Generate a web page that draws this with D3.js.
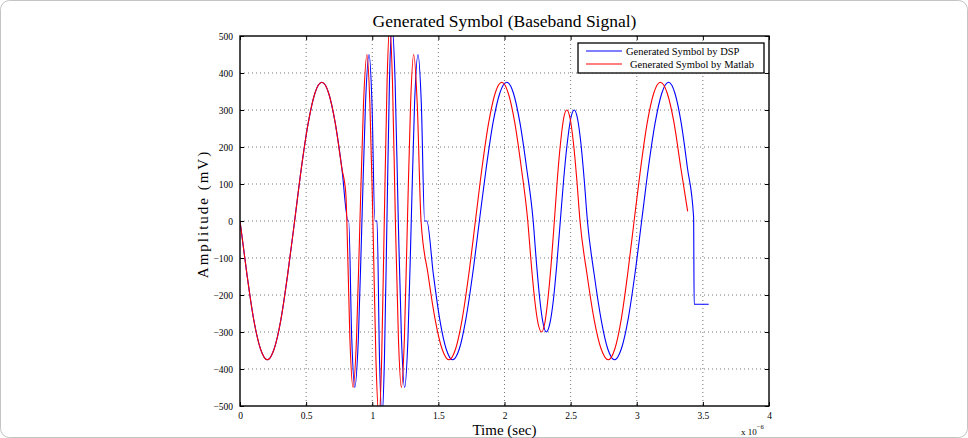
<!DOCTYPE html>
<html>
<head>
<meta charset="utf-8">
<script src="https://cdn.jsdelivr.net/npm/d3@7.9.0/dist/d3.min.js"></script>
<style>
  html, body { margin: 0; padding: 0; background: #fff; }
  svg { display: block; font-family: "Liberation Serif", "Times New Roman", serif; }
</style>
</head>
<body>
<div id="chart"></div>
<script>
// time in units of 1e-6 s, amplitude in mV
const xTicks = [0, 0.5, 1, 1.5, 2, 2.5, 3, 3.5, 4];
const yTicks = [-500, -400, -300, -200, -100, 0, 100, 200, 300, 400, 500];

const dspTime = [
  0.000, 0.052, 0.103, 0.155, 0.207, 0.258, 0.310, 0.361, 0.413, 0.464, 0.516, 0.567, 0.619, 0.670, 0.720, 0.770,
  0.817, 0.822, 0.845, 0.868, 0.895, 0.922, 0.949, 0.976, 0.998, 1.020, 1.036, 1.055, 1.074, 1.092, 1.111, 1.130,
  1.149, 1.173, 1.197, 1.221, 1.245, 1.270, 1.295, 1.320, 1.346, 1.371, 1.396, 1.413,
  1.462, 1.510, 1.559, 1.607, 1.658, 1.708, 1.759, 1.810, 1.862, 1.913, 1.965, 2.017, 2.067, 2.117, 2.167, 2.217,
  2.242, 2.267, 2.292, 2.317, 2.343, 2.370, 2.396, 2.422, 2.448, 2.475, 2.501, 2.527, 2.552, 2.577, 2.602, 2.627,
  2.678, 2.730, 2.781, 2.832, 2.883, 2.935, 2.986, 3.037, 3.088, 3.139, 3.190, 3.241, 3.288, 3.336, 3.383, 3.430,
  3.434, 3.544
];
const dspAmp = [
  0, -143, -265, -346, -375, -346, -265, -143, 0, 143, 265, 346, 375, 346, 265, 143,
  0, 0, -318, -450, -318, 0, 318, 450, 318, 0, 0, -375, -530, -375, 0, 375,
  530, 375, 0, -318, -450, -318, 0, 318, 450, 318, 0, 0,
  -144, -265, -346, -375, -346, -265, -144, 0, 144, 265, 346, 375, 346, 265, 144, 0,
  -115, -212, -277, -300, -277, -212, -115, 0, 115, 212, 277, 300, 277, 212, 115, 0,
  -144, -265, -346, -375, -346, -265, -144, 0, 144, 265, 346, 375, 346, 265, 144, 10,
  -225, -225
];

const matlabTime = [
  0.000, 0.052, 0.103, 0.155, 0.207, 0.258, 0.310, 0.361, 0.413, 0.464, 0.516, 0.567, 0.619, 0.670, 0.720, 0.770,
  0.800, 0.808, 0.831, 0.855, 0.881, 0.907, 0.934, 0.960, 0.982, 1.005, 1.028, 1.051, 1.071, 1.091, 1.112, 1.132,
  1.153, 1.175, 1.198, 1.220, 1.243, 1.266, 1.290, 1.313, 1.340, 1.369,
  1.422, 1.475, 1.528, 1.580, 1.630, 1.680, 1.730, 1.780, 1.830, 1.880, 1.930, 1.979, 2.028, 2.078, 2.127, 2.176,
  2.202, 2.228, 2.254, 2.280, 2.304, 2.328, 2.353, 2.377, 2.400, 2.424, 2.447, 2.471, 2.496, 2.521, 2.546, 2.571,
  2.624, 2.677, 2.731, 2.785, 2.834, 2.883, 2.931, 2.980, 3.030, 3.079, 3.129, 3.178, 3.230, 3.282, 3.333, 3.385
];
const matlabAmp = [
  0, -143, -265, -346, -375, -346, -265, -143, 0, 143, 265, 346, 375, 346, 265, 143,
  75, 0, -318, -450, -318, 0, 318, 450, 318, 0, -375, -530, -375, 0, 375, 530,
  375, 0, -318, -450, -318, 0, 318, 450, 318, 0,
  -144, -265, -346, -375, -346, -265, -144, 0, 144, 265, 346, 375, 346, 265, 144, 0,
  -115, -212, -277, -300, -277, -212, -115, 0, 115, 212, 277, 300, 277, 212, 115, 0,
  -144, -265, -346, -375, -346, -265, -144, 0, 144, 265, 346, 375, 346, 265, 144, 26
];

const seriesNames = ["Generated Symbol by DSP", "Generated Symbol by Matlab"];
const seriesColors = ["#0000ff", "#ff0000"];

const width = 968;
const height = 438;
const margin = { top: 36, right: 199, bottom: 32, left: 240 };
const plotWidth = width - margin.left - margin.right;
const plotHeight = height - margin.top - margin.bottom;

const svg = d3.select("#chart").append("svg")
    .attr("width", width)
    .attr("height", height);

// outer rounded frame of the figure
svg.append("rect")
    .attr("x", 0.5).attr("y", 0.5)
    .attr("width", width - 1).attr("height", height - 1)
    .attr("rx", 9)
    .attr("fill", "#fff")
    .attr("stroke", "#c4c4c4");

const xScale = d3.scaleLinear().domain([0, 4]).range([0, plotWidth]);
const yScale = d3.scaleLinear().domain([-500, 500]).range([plotHeight, 0]);

const g = svg.append("g").attr("transform", `translate(${margin.left},${margin.top})`);

g.append("clipPath").attr("id", "plot-clip")
    .append("rect").attr("width", plotWidth).attr("height", plotHeight);

// === Grid ===
g.append("g").selectAll("line").data(xTicks.slice(1, -1))
    .join("line")
    .attr("x1", d => xScale(d)).attr("x2", d => xScale(d))
    .attr("y1", 0).attr("y2", plotHeight)
    .attr("stroke", "#555").attr("stroke-width", 0.8)
    .attr("stroke-dasharray", "1,3");

g.append("g").selectAll("line").data(yTicks.slice(1, -1))
    .join("line")
    .attr("x1", 0).attr("x2", plotWidth)
    .attr("y1", d => yScale(d)).attr("y2", d => yScale(d))
    .attr("stroke", "#555").attr("stroke-width", 0.8)
    .attr("stroke-dasharray", "1,3");

// === Series ===
const line = d3.line()
    .x(d => xScale(d[0]))
    .y(d => yScale(d[1]))
    .curve(d3.curveMonotoneX);

const series = [d3.zip(dspTime, dspAmp), d3.zip(matlabTime, matlabAmp)];

g.append("g").attr("clip-path", "url(#plot-clip)")
    .selectAll("path").data(series)
    .join("path")
    .attr("d", line)
    .attr("fill", "none")
    .attr("stroke", (d, i) => seriesColors[i])
    .attr("stroke-width", 1.1);

// === Axes (MATLAB style, ticks inward on all sides) ===
const fmt = d3.format("d");
const xAxis = g.append("g").attr("transform", `translate(0,${plotHeight})`)
    .call(d3.axisBottom(xScale).tickValues(xTicks).tickSize(-4).tickPadding(6).tickFormat(d3.format("")));
const yAxis = g.append("g")
    .call(d3.axisLeft(yScale).tickValues(yTicks).tickSize(-4).tickPadding(7).tickFormat(fmt));
const xTop = g.append("g")
    .call(d3.axisTop(xScale).tickValues(xTicks).tickSize(-4).tickFormat(""));
const yRight = g.append("g").attr("transform", `translate(${plotWidth},0)`)
    .call(d3.axisRight(yScale).tickValues(yTicks).tickSize(-4).tickFormat(""));

[xAxis, yAxis, xTop, yRight].forEach(a => {
    a.select(".domain").remove();
    a.selectAll(".tick line").attr("stroke", "#000");
    a.selectAll("text")
        .attr("fill", "#000")
        .style("font-family", "'Liberation Serif', serif")
        .style("font-size", "9.5px");
});

g.append("rect")
    .attr("width", plotWidth).attr("height", plotHeight)
    .attr("fill", "none")
    .attr("stroke", "#000")
    .attr("stroke-width", 1.4);

// === Legend ===
const legend = g.append("g").attr("transform", `translate(${plotWidth - 191},7)`);
legend.append("rect")
    .attr("width", 186).attr("height", 30)
    .attr("fill", "#fff")
    .attr("stroke", "#000")
    .attr("stroke-width", 1.3);
seriesNames.forEach((name, i) => {
    const row = legend.append("g").attr("transform", `translate(0,${8 + i * 13})`);
    row.append("line")
        .attr("x1", 8).attr("x2", 44)
        .attr("stroke", seriesColors[i]).attr("stroke-width", 1.1);
    row.append("text")
        .attr("x", i === 0 ? 48 : 52)
        .attr("y", 3.5)
        .attr("font-size", "10.5px")
        .attr("fill", "#000")
        .text(name);
});

// === Titles ===
svg.append("text")
    .attr("x", margin.left + plotWidth / 2)
    .attr("y", 27)
    .attr("text-anchor", "middle")
    .attr("font-size", "17.5px")
    .attr("fill", "#000")
    .text("Generated Symbol (Baseband Signal)");

svg.append("text")
    .attr("x", margin.left + plotWidth / 2)
    .attr("y", 435)
    .attr("text-anchor", "middle")
    .attr("font-size", "15px")
    .attr("fill", "#000")
    .text("Time (sec)");

svg.append("text")
    .attr("transform", "rotate(-90)")
    .attr("x", -214)
    .attr("y", 208)
    .attr("text-anchor", "middle")
    .attr("font-size", "15px")
    .attr("letter-spacing", "2px")
    .attr("fill", "#000")
    .text("Amplitude (mV)");

const expo = svg.append("text")
    .attr("x", 741)
    .attr("y", 435)
    .attr("font-size", "9px")
    .attr("fill", "#000");
expo.append("tspan").text("x 10");
expo.append("tspan").attr("dy", -6).attr("font-size", "6.5px").text("\u22126");
</script>
</body>
</html>
